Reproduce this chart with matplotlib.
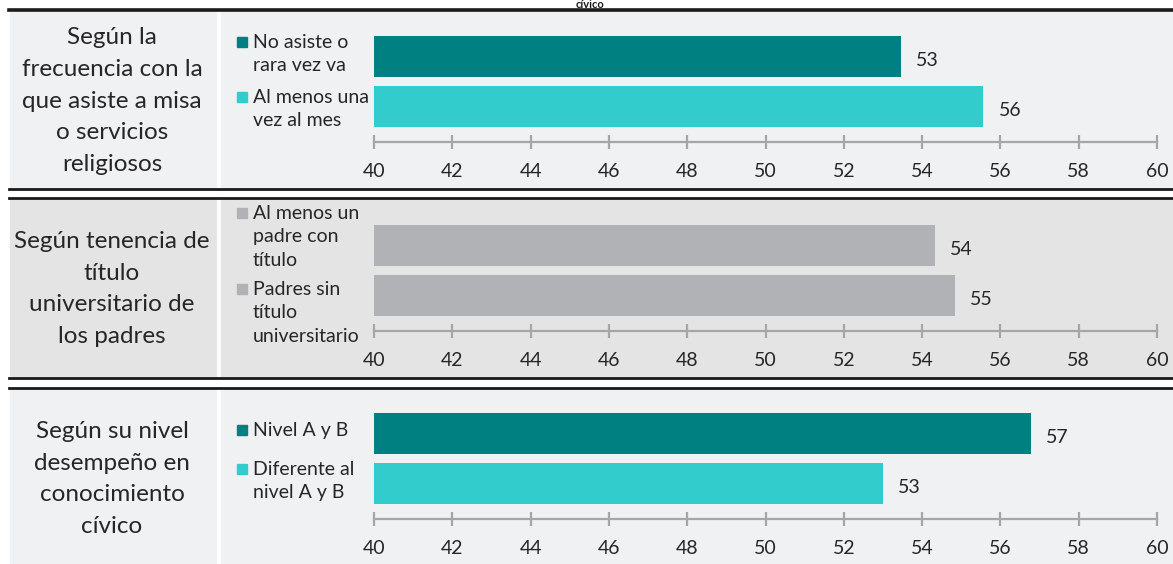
import matplotlib.pyplot as plt
from matplotlib.patches import Rectangle
from matplotlib.lines import Line2D

plt.rcParams['font.family'] = ['Lato', 'DejaVu Sans']

W, H = 1173, 564

group_titles = [
    'Según la\nfrecuencia con la\nque asiste a misa\no servicios\nreligiosos',
    'Según tenencia de\ntítulo\nuniversitario de\nlos padres',
    'Según su nivel\ndesempeño en\nconocimiento\ncívico',
]
series_labels = [
    ['No asiste o\nrara vez va', 'Al menos una\nvez al mes'],
    ['Al menos un\npadre con\ntítulo', 'Padres sin\ntítulo\nuniversitario'],
    ['Nivel A y B', 'Diferente al\nnivel A y B'],
]
values = [
    [53.46, 55.56],
    [54.33, 54.84],
    [56.78, 53.0],
]
value_labels = [['53', '56'], ['54', '55'], ['57', '53']]
bar_colors = [
    ['#008080', '#33cccc'],
    ['#b1b2b6', '#b1b2b6'],
    ['#008080', '#33cccc'],
]
x_ticks = [40, 42, 44, 46, 48, 50, 52, 54, 56, 58, 60]


def fx(x):
    return x / W


def fy(y):
    return 1 - y / H


fig = plt.figure(figsize=(W / 100, H / 100), dpi=100)
fig.patch.set_facecolor('white')

# panel geometry in pixels (top, bottom, axis line, background)
panel_top = [11, 199, 389]
panel_bottom = [187, 377, 564]
axis_y = [142, 331, 519]
panel_bg = ['#f0f1f3', '#e4e4e4', '#f0f1f3']
legend_y = [[42, 97], [213, 289], [430, 469]]
title_y = [101, 289, 479]

for i in range(3):
    top, bot = panel_top[i], panel_bottom[i]
    fig.patches.append(Rectangle((fx(10), fy(bot)), fx(216 - 10), (bot - top) / H,
                                 transform=fig.transFigure, color=panel_bg[i], zorder=-5))
    fig.patches.append(Rectangle((fx(221), fy(bot)), fx(W - 221), (bot - top) / H,
                                 transform=fig.transFigure, color=panel_bg[i], zorder=-5))

    fig.text(fx(112), fy(title_y[i]), group_titles[i], ha='center', va='center',
             fontsize=17.5, color='#262626', linespacing=1.63)

    ax = fig.add_axes([fx(374), fy(axis_y[i]), fx(1157 - 374), 116 / H])
    ax.set_facecolor('none')
    pos = [1, 0]
    ax.barh(pos, values[i], color=bar_colors[i], height=0.82)
    for p, v, lab in zip(pos, values[i], value_labels[i]):
        ax.annotate(lab, (v, p), xytext=(11, -3), textcoords='offset points',
                    ha='left', va='center', fontsize=14, color='#262626')
    ax.set_xlim(40, 60)
    ax.set_ylim(-0.72, 1.6)
    ax.set_yticks([])
    ax.set_xticks(x_ticks)
    ax.set_xticklabels([str(t) for t in x_ticks])
    for s in ['top', 'left', 'right']:
        ax.spines[s].set_visible(False)
    ax.spines['bottom'].set_color('#a6a6a6')
    ax.spines['bottom'].set_linewidth(1.6)
    ax.tick_params(axis='x', direction='inout', length=10, width=1.6,
                   color='#a6a6a6', labelsize=14, labelcolor='#262626', pad=10)

    for j in range(2):
        ly = legend_y[i][j]
        fig.patches.append(Rectangle((fx(237), fy(ly + 5)), fx(10), 10 / H,
                                     transform=fig.transFigure,
                                     color=bar_colors[i][j], zorder=3))
        fig.text(fx(253), fy(ly - 8), series_labels[i][j], ha='left', va='top',
                 fontsize=14, color='#262626', linespacing=1.46)

# separator lines
def hline(y, lw):
    fig.add_artist(Line2D([fx(9), 1], [fy(y), fy(y)], transform=fig.transFigure,
                          color='#1a1a1a', lw=lw))


hline(10, 2.6)
hline(188.5, 2)
hline(198, 2)
hline(378, 2)
hline(388, 2)

fig.text(fx(590), fy(7.5), 'cívico', ha='center', va='baseline', fontsize=8,
         weight='bold', color='#1a1a1a')

fig.savefig('out.png', dpi=100)
